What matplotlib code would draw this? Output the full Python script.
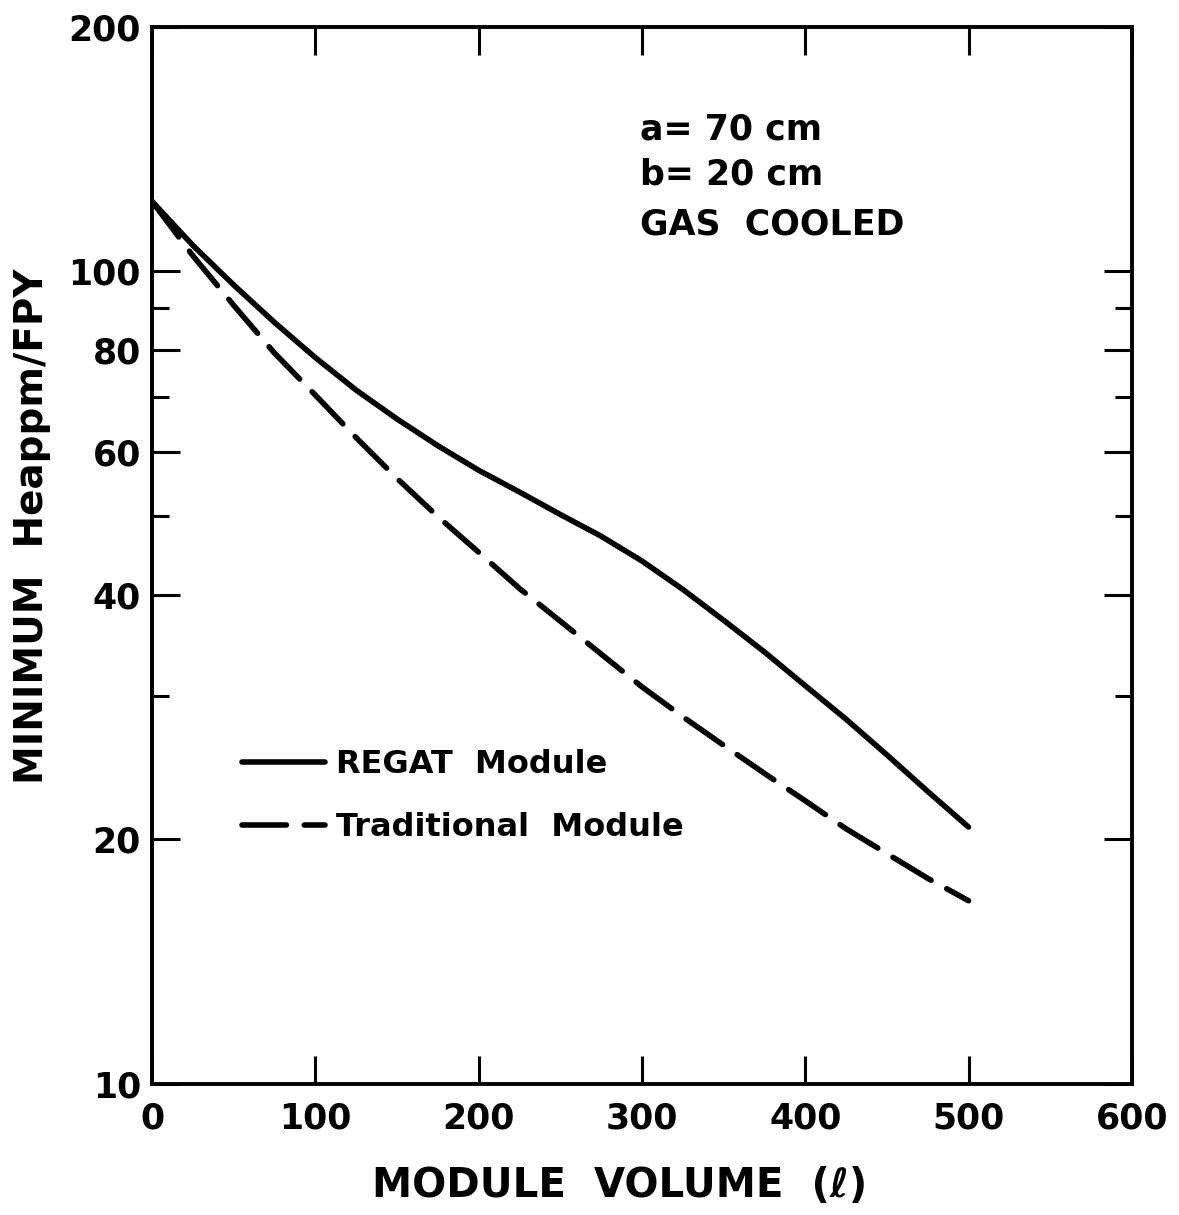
import numpy as np
import matplotlib
matplotlib.use("Agg")
import matplotlib.pyplot as plt
from matplotlib.ticker import FixedLocator, FixedFormatter, NullFormatter

# --------------------------
# Data
# --------------------------
volume = [0, 25, 50, 75, 100, 125, 150, 175, 200, 225, 250, 275, 300,
          325, 350, 375, 400, 425, 450, 475, 500]
regat = [121.9, 107.6, 96.2, 86.5, 78.3, 71.4, 65.8, 61.0, 56.9, 53.5, 50.2,
         47.2, 44.0, 40.6, 37.2, 34.0, 30.9, 28.1, 25.4, 22.9, 20.7]
traditional = [121.9, 104.5, 90.8, 79.3, 70.4, 62.4, 55.6, 49.9, 45.1, 40.7,
               37.1, 33.8, 30.8, 28.3, 26.1, 24.1, 22.3, 20.6, 19.2, 17.9, 16.8]

y_major = [10, 20, 40, 60, 80, 100, 200]
y_minor = [30, 50, 70, 90]
x_ticks = [0, 100, 200, 300, 400, 500, 600]

plt.rcParams['font.family'] = ['DejaVu Sans']
plt.rcParams['font.weight'] = 'bold'

fig = plt.figure(figsize=(11.79, 12.15), dpi=100)
ax = fig.add_axes([0.129, 0.108, 0.831, 0.870])

ax.plot(volume, regat, color='black', lw=4, solid_capstyle='round',
        solid_joinstyle='round', label='REGAT  Module')
ax.plot(volume, traditional, color='black', lw=4, dash_capstyle='round',
        dash_joinstyle='round', dashes=(8.0, 3.2), label='Traditional  Module')

ax.set_yscale('log')
ax.set_xlim(0, 600)
ax.set_ylim(10, 200)

ax.yaxis.set_major_locator(FixedLocator(y_major))
ax.yaxis.set_major_formatter(FixedFormatter([str(v) for v in y_major]))
ax.yaxis.set_minor_locator(FixedLocator(y_minor))
ax.yaxis.set_minor_formatter(NullFormatter())
ax.xaxis.set_major_locator(FixedLocator(x_ticks))

ax.tick_params(which='major', direction='in', length=20, width=2.2,
               top=True, right=True, labelsize=25, pad=8)
ax.tick_params(axis='x', which='major', pad=13)
ax.tick_params(which='minor', direction='in', length=12, width=2.2,
               right=True)
for lab in ax.get_xticklabels() + ax.get_yticklabels():
    lab.set_fontweight('bold')
for sp in ax.spines.values():
    sp.set_linewidth(2.8)

ax.set_xlabel('MODULE  VOLUME  (ℓ)', fontsize=29, fontweight='bold')
ax.xaxis.set_label_coords(0.4776, -0.078)
ax.set_ylabel('MINIMUM  Heappm/FPY', fontsize=28, fontweight='bold')
ax.yaxis.set_label_coords(-0.103, 0.527)

ax.text(0.498, 0.9026, 'a= 70 cm', transform=ax.transAxes, fontsize=25,
        fontweight='bold', va='center')
ax.text(0.498, 0.860, 'b= 20 cm', transform=ax.transAxes, fontsize=25,
        fontweight='bold', va='center')
ax.text(0.498, 0.813, 'GAS  COOLED', transform=ax.transAxes, fontsize=25,
        fontweight='bold', va='center')

leg = ax.legend(loc='upper left', bbox_to_anchor=(0.062, 0.344), frameon=False,
                fontsize=23, handlelength=2.6, handletextpad=0.35, labelspacing=1.0)
for t in leg.get_texts():
    t.set_fontweight('bold')

fig.savefig('out.png', dpi=100)
